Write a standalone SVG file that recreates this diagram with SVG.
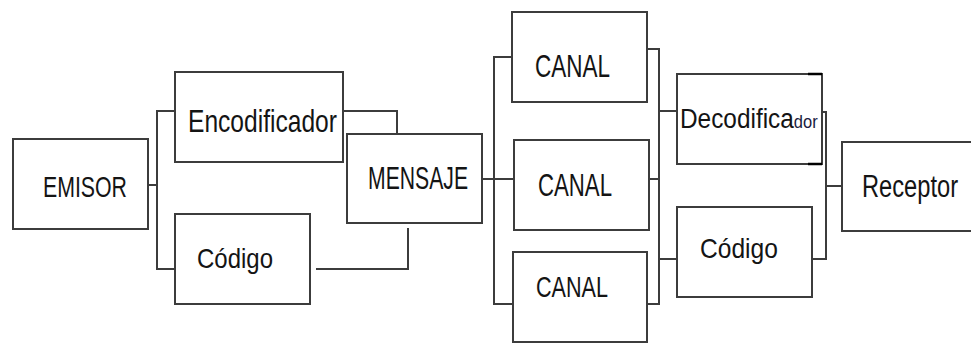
<svg xmlns="http://www.w3.org/2000/svg" width="971" height="344" viewBox="0 0 971 344">
  <style>
    .box { fill: #ffffff; stroke: #3c3c3c; stroke-width: 2; }
    .wire { fill: none; stroke: #3c3c3c; stroke-width: 2; }
    .lbl { font-family: "Liberation Sans", Arial, sans-serif; fill: #141414; }
  </style>
  <rect width="971" height="344" fill="#ffffff"/>

  <!-- connectors -->
  <g id="connectors">
    <path class="wire" d="M148 185 H157 M175 111 H157 V269 H175"/>
    <path class="wire" d="M343 111 H397 V133"/>
    <path class="wire" d="M316 269 H408 V228"/>
    <path class="wire" d="M482 179 H514 M512 57 H494 V304 H513"/>
    <path class="wire" d="M647 49 H659 V304 H647 M649 179 H659 M659 111 H677 M659 259 H677"/>
    <path class="wire" d="M822 112 H826 V259 H812 M826 186 H842"/>
  </g>

  <!-- labels use a tall, narrow face: normal width, stretched vertically -->
  <g id="emisor">
    <rect class="box" x="13" y="139" width="135" height="90"/>
    <text class="lbl" font-size="21.3" transform="translate(43 197) scale(1 1.38)">EMISOR</text>
  </g>
  <g id="encodificador">
    <rect class="box" x="175" y="72" width="168" height="90"/>
    <text class="lbl" font-size="24.6" transform="translate(188 132) scale(1 1.25)">Encodificador</text>
  </g>
  <g id="codigo-emisor">
    <rect class="box" x="175" y="214" width="135" height="90"/>
    <text class="lbl" font-size="24" transform="translate(197 268) scale(1 1.12)">Código</text>
  </g>
  <g id="mensaje">
    <rect class="box" x="347" y="134" width="135" height="89"/>
    <text class="lbl" font-size="21.2" transform="translate(368 189) scale(1 1.45)">MENSAJE</text>
  </g>
  <g id="canal-1">
    <rect class="box" x="512" y="12" width="135" height="90"/>
    <text class="lbl" font-size="22.5" transform="translate(535 77) scale(1 1.38)">CANAL</text>
  </g>
  <g id="canal-2">
    <rect class="box" x="514" y="140" width="135" height="90"/>
    <text class="lbl" font-size="22.2" transform="translate(538 196) scale(1 1.38)">CANAL</text>
  </g>
  <g id="canal-3">
    <rect class="box" x="513" y="252" width="134" height="90"/>
    <text class="lbl" font-size="21.6" transform="translate(536 297) scale(1 1.38)">CANAL</text>
  </g>
  <g id="decodificador">
    <rect class="box" x="677" y="74" width="145" height="90"/>
    <path d="M808 74 H822 M808 164 H822" stroke="#000000" stroke-width="2.5" fill="none"/>
    <text class="lbl" transform="translate(680 128) scale(1 1.12)"><tspan font-size="24.4">Decodifica</tspan><tspan font-size="16.5" fill="#1a1a40">dor</tspan></text>
  </g>
  <g id="codigo-receptor">
    <rect class="box" x="677" y="207" width="135" height="90"/>
    <text class="lbl" font-size="24.6" transform="translate(700 258) scale(1 1.1)">Código</text>
  </g>
  <g id="receptor">
    <!-- box runs past the right edge, so its right side is not drawn -->
    <path class="box" d="M971 142 H842 V231 H971"/>
    <text class="lbl" font-size="23.7" transform="translate(862 197) scale(1 1.3)">Receptor</text>
  </g>
</svg>
